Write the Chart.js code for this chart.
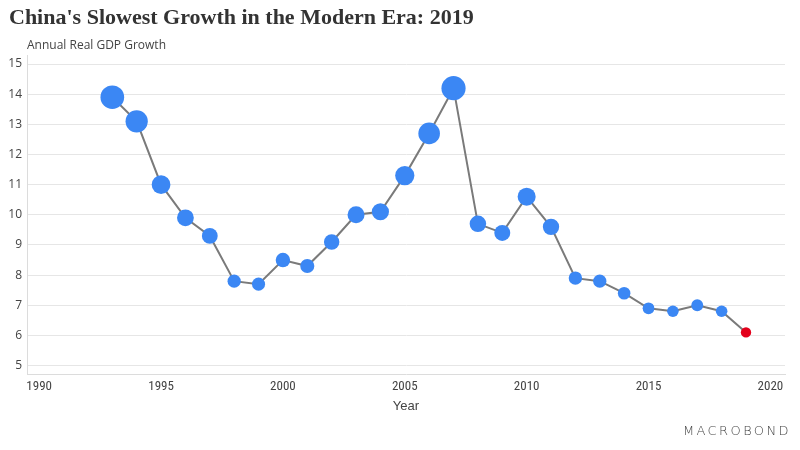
<!DOCTYPE html>
<html>
<head>
<meta charset="utf-8">
<script src="https://cdn.jsdelivr.net/npm/chart.js@4"></script>
<style>
    body { margin: 0; background: #fff; }
    #wrap { position: relative; width: 800px; height: 450px; }
    #title { position: absolute; left: 9px; top: 4px; font: bold 22px "Liberation Serif", serif; color: #333; }
    #subtitle { position: absolute; left: 27px; top: 36px; font: 12px "Open Sans", sans-serif; color: #444; }
    #logo { position: absolute; right: 9px; top: 423px; font: 200 13px "DejaVu Sans ExtraLight", "DejaVu Sans", sans-serif; color: #444; letter-spacing: 2.4px; }
</style>
</head>
<body>
<div id="wrap">
    <canvas id="gdpChart" width="800" height="450"></canvas>
    <div id="title">China's Slowest Growth in the Modern Era: 2019</div>
    <div id="subtitle">Annual Real GDP Growth</div>
    <div id="logo">MACROBOND</div>
</div>
<script>
// Chart data
const years = [1993, 1994, 1995, 1996, 1997, 1998, 1999, 2000, 2001, 2002, 2003, 2004, 2005, 2006,
               2007, 2008, 2009, 2010, 2011, 2012, 2013, 2014, 2015, 2016, 2017, 2018, 2019];
const growth = [13.9, 13.1, 11.0, 9.9, 9.3, 7.8, 7.7, 8.5, 8.3, 9.1, 10.0, 10.1, 11.3, 12.7,
                14.2, 9.7, 9.4, 10.6, 9.6, 7.9, 7.8, 7.4, 6.9, 6.8, 7.0, 6.8, 6.1];
const xTicks = [1990, 1995, 2000, 2005, 2010, 2015, 2020];
const yTicks = [5, 6, 7, 8, 9, 10, 11, 12, 13, 14, 15];

const blue = '#3b87f4';
const red = '#e3001b';

const points = years.map((y, i) => ({ x: y, y: growth[i] }));
const lastIndex = points.length - 1;

function pointColor(ctx) {
    return ctx.dataIndex === lastIndex ? red : blue;
}

new Chart(document.getElementById('gdpChart'), {
    type: 'line',
    data: {
        datasets: [{
            data: points,
            borderColor: '#7a7a7a',
            borderWidth: 2,
            backgroundColor: pointColor,
            pointBackgroundColor: pointColor,
            pointBorderColor: pointColor,
            pointBorderWidth: 0,
            // bubble size follows the growth value
            pointRadius: ctx => ctx.raw.y * 0.85,
            tension: 0
        }]
    },
    options: {
        responsive: false,
        animation: false,
        layout: { padding: { top: 55, left: 0, right: 15, bottom: 34 } },
        plugins: {
            legend: { display: false },
            tooltip: { enabled: false }
        },
        scales: {
            x: {
                type: 'linear',
                min: 1989.5,
                max: 2020.6,
                afterBuildTicks: scale => { scale.ticks = xTicks.map(v => ({ value: v })); },
                afterFit: scale => { scale.height = 42; },
                grid: { display: false, drawTicks: false },
                border: { display: true, color: '#dcdcdc', width: 1 },
                ticks: {
                    padding: 5,
                    color: '#444',
                    font: { family: '"Liberation Sans Narrow", "Roboto Condensed", sans-serif', size: 13 },
                    callback: v => String(v)
                },
                title: {
                    display: true,
                    text: 'Year',
                    color: '#444',
                    padding: { top: 0, bottom: 2 },
                    font: { family: '"Liberation Sans Narrow", sans-serif', size: 13 }
                }
            },
            y: {
                min: 4.72,
                max: 15.3,
                afterBuildTicks: scale => { scale.ticks = yTicks.map(v => ({ value: v })); },
                afterFit: scale => { scale.width = 27; },
                grid: { color: '#e6e6e6', lineWidth: 1, drawTicks: false },
                border: { display: true, color: '#dcdcdc', width: 1 },
                ticks: {
                    padding: 5,
                    color: '#444',
                    font: { family: '"Open Sans", sans-serif', size: 12 }
                }
            }
        }
    }
});
</script>
</body>
</html>
